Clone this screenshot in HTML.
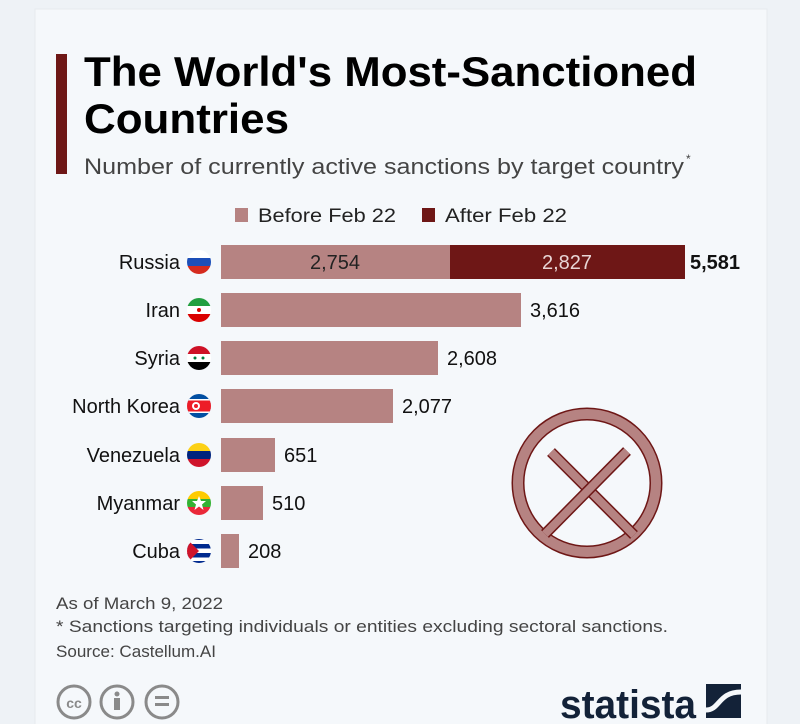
<!DOCTYPE html>
<html><head><meta charset="utf-8"><style>
html,body{margin:0;padding:0;background:#eef2f6;}
svg{display:block;font-family:"Liberation Sans",sans-serif;}
</style></head><body>
<svg width="800" height="724" viewBox="0 0 800 724" xmlns="http://www.w3.org/2000/svg">
<rect x="0" y="0" width="800" height="724" fill="#eef2f6"/>
<rect x="35" y="9" width="732" height="720" fill="#f5f8fb" stroke="#e6eaee"/>
<rect x="56" y="54" width="11" height="120" fill="#6e1716"/>
<text x="84" y="86" font-size="42" font-weight="bold" fill="#000" textLength="613" lengthAdjust="spacingAndGlyphs">The World's Most-Sanctioned</text>
<text x="84" y="133" font-size="42" font-weight="bold" fill="#000" textLength="205" lengthAdjust="spacingAndGlyphs">Countries</text>
<text x="84" y="174" font-size="22" fill="#444" textLength="600" lengthAdjust="spacingAndGlyphs">Number of currently active sanctions by target country</text>
<text x="686" y="163" font-size="12" fill="#444">*</text>
<rect x="235" y="208" width="13" height="14" fill="#b68382"/>
<text x="258" y="222" font-size="19" fill="#222" textLength="138" lengthAdjust="spacingAndGlyphs">Before Feb 22</text>
<rect x="422" y="208" width="13" height="14" fill="#6e1716"/>
<text x="445" y="222" font-size="19" fill="#222" textLength="122" lengthAdjust="spacingAndGlyphs">After Feb 22</text>
<g font-size="20" fill="#111">
<rect x="221" y="245" width="229" height="34" fill="#b68382"/>
<rect x="450" y="245" width="235" height="34" fill="#6e1716"/>
<text x="335" y="269" text-anchor="middle" fill="#222">2,754</text>
<text x="567" y="269" text-anchor="middle" fill="#e8d5d5">2,827</text>
<text x="690" y="269" font-weight="bold">5,581</text>
<rect x="221" y="293" width="300" height="34" fill="#b68382"/><text x="530" y="317">3,616</text>
<rect x="221" y="341" width="217" height="34" fill="#b68382"/><text x="447" y="365">2,608</text>
<rect x="221" y="389" width="172" height="34" fill="#b68382"/><text x="402" y="413">2,077</text>
<rect x="221" y="438" width="54" height="34" fill="#b68382"/><text x="284" y="462">651</text>
<rect x="221" y="486" width="42" height="34" fill="#b68382"/><text x="272" y="510">510</text>
<rect x="221" y="534" width="18" height="34" fill="#b68382"/><text x="248" y="558">208</text>
<g text-anchor="end">
<text x="180" y="269">Russia</text>
<text x="180" y="317">Iran</text>
<text x="180" y="365">Syria</text>
<text x="180" y="413">North Korea</text>
<text x="180" y="462">Venezuela</text>
<text x="180" y="510">Myanmar</text>
<text x="180" y="558">Cuba</text>
</g>
</g>
<defs><clipPath id="c"><circle cx="0" cy="0" r="12"/></clipPath></defs>
<g transform="translate(199,262)" clip-path="url(#c)"><rect x="-12" y="-12" width="24" height="8" fill="#fff"/><rect x="-12" y="-4" width="24" height="8" fill="#1d4fb8"/><rect x="-12" y="4" width="24" height="8" fill="#d52b1e"/></g>
<g transform="translate(199,310)" clip-path="url(#c)"><rect x="-12" y="-12" width="24" height="8" fill="#239f40"/><rect x="-12" y="-4" width="24" height="8" fill="#fff"/><rect x="-12" y="4" width="24" height="8" fill="#da0000"/><circle r="2" fill="#da0000"/></g>
<g transform="translate(199,358)" clip-path="url(#c)"><rect x="-12" y="-12" width="24" height="8" fill="#ce1126"/><rect x="-12" y="-4" width="24" height="8" fill="#fff"/><rect x="-12" y="4" width="24" height="8" fill="#000"/><circle cx="-4" r="1.5" fill="#007a3d"/><circle cx="4" r="1.5" fill="#007a3d"/></g>
<g transform="translate(199,406)" clip-path="url(#c)"><rect x="-12" y="-12" width="24" height="24" fill="#024fa2"/><rect x="-12" y="-7" width="24" height="14" fill="#fff"/><rect x="-12" y="-5.5" width="24" height="11" fill="#ed1c27"/><circle cx="-3" r="4" fill="#fff"/><circle cx="-3" r="2" fill="#ed1c27"/></g>
<g transform="translate(199,455)" clip-path="url(#c)"><rect x="-12" y="-12" width="24" height="8" fill="#fcd116"/><rect x="-12" y="-4" width="24" height="8" fill="#00247d"/><rect x="-12" y="4" width="24" height="8" fill="#cf142b"/></g>
<g transform="translate(199,503)" clip-path="url(#c)"><rect x="-12" y="-12" width="24" height="8" fill="#fecb00"/><rect x="-12" y="-4" width="24" height="8" fill="#34b233"/><rect x="-12" y="4" width="24" height="8" fill="#ea2839"/><polygon points="0,-7 2,-2 7,-2 3,1.5 4.5,7 0,3.5 -4.5,7 -3,1.5 -7,-2 -2,-2" fill="#fff"/></g>
<g transform="translate(199,551)" clip-path="url(#c)"><rect x="-12" y="-12" width="24" height="24" fill="#fff"/><rect x="-12" y="-7" width="24" height="4.5" fill="#002a8f"/><rect x="-12" y="2" width="24" height="4.5" fill="#002a8f"/><rect x="-12" y="10" width="24" height="4" fill="#002a8f"/><rect x="-12" y="-12" width="24" height="1" fill="#002a8f"/><polygon points="-12,-12 0,0 -12,12" fill="#cf142b"/></g>
<g fill="none">
<circle cx="587" cy="483" r="69" stroke="#6e1716" stroke-width="13"/>
<circle cx="587" cy="483" r="69" stroke="#b68382" stroke-width="10"/>
<line x1="551" y1="452" x2="634" y2="535" stroke="#6e1716" stroke-width="11"/>
<line x1="551" y1="452" x2="634" y2="535" stroke="#b68382" stroke-width="8"/>
<line x1="627" y1="451" x2="545" y2="534" stroke="#6e1716" stroke-width="11"/>
<line x1="627" y1="451" x2="545" y2="534" stroke="#b68382" stroke-width="8"/>
</g>
<g font-size="17" fill="#444">
<text x="56" y="609" textLength="167" lengthAdjust="spacingAndGlyphs">As of March 9, 2022</text>
<text x="56" y="632" textLength="612" lengthAdjust="spacingAndGlyphs">* Sanctions targeting individuals or entities excluding sectoral sanctions.</text>
<text x="56" y="657" textLength="160" lengthAdjust="spacingAndGlyphs">Source: Castellum.AI</text>
</g>
<g fill="none" stroke="#8a8a8a" stroke-width="3">
<circle cx="74" cy="702" r="16"/><circle cx="117" cy="702" r="16"/><circle cx="162" cy="702" r="16"/>
</g>
<text x="74" y="708" font-size="14" font-weight="bold" fill="#8a8a8a" text-anchor="middle">cc</text>
<circle cx="117" cy="694" r="2.5" fill="#8a8a8a"/><rect x="114" y="698" width="6" height="12" fill="#8a8a8a"/>
<rect x="155" y="696" width="14" height="3" fill="#8a8a8a"/><rect x="155" y="703" width="14" height="3" fill="#8a8a8a"/>
<text x="560" y="718" font-size="40" font-weight="bold" fill="#132238" textLength="136" lengthAdjust="spacingAndGlyphs">statista</text>
<g transform="translate(706,684)"><rect width="35" height="34" fill="#132238"/><path d="M0,26 C14,26 12,8 35,8" stroke="#f5f8fb" stroke-width="5" fill="none"/></g>
</svg>
</body></html>
